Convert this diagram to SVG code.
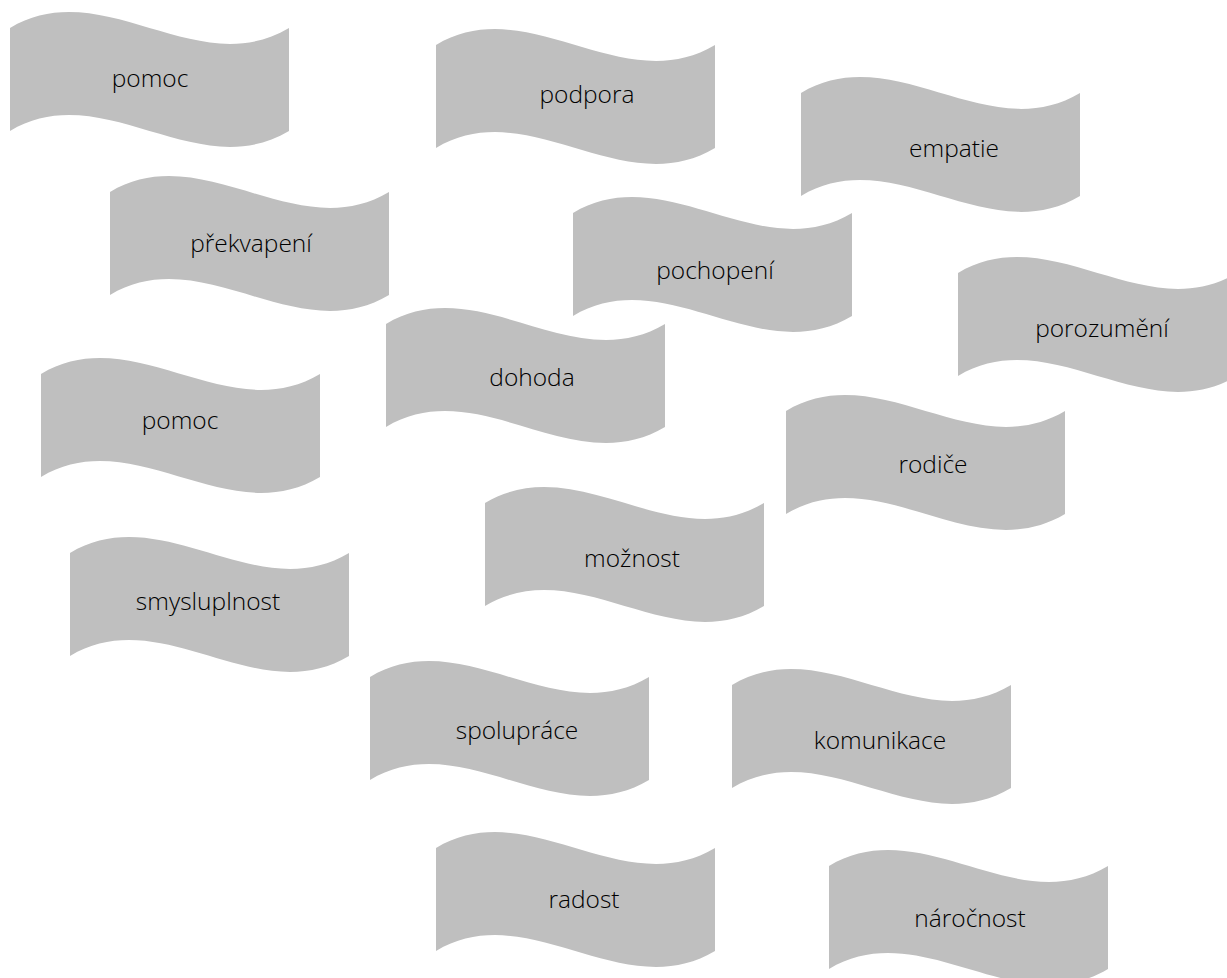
<svg xmlns="http://www.w3.org/2000/svg" xmlns:xlink="http://www.w3.org/1999/xlink" width="1227" height="978" viewBox="0 0 1227 978">
  <style>
    .wave { fill: #bfbfbf; }
    .lbl { font-family: "Open Sans", "Noto Sans", "Liberation Sans", sans-serif; font-weight: 300; font-size: 24.5px; fill: #000000; text-anchor: middle; }
  </style>
  <defs>
    <path id="wave" d="M0,0 C93,-55 186,55 279,0 L279,103 C186,158 93,48 0,103 Z"/>
  </defs>
  <rect width="1227" height="978" fill="#ffffff"/>
  <g id="n1"><use href="#wave" class="wave" x="10" y="28"/><text class="lbl" x="150" y="87">pomoc</text></g>
  <g id="n2"><use href="#wave" class="wave" x="436" y="45"/><text class="lbl" x="587" y="103">podpora</text></g>
  <g id="n3"><use href="#wave" class="wave" x="801" y="93"/><text class="lbl" x="954" y="157">empatie</text></g>
  <g id="n4"><use href="#wave" class="wave" x="110" y="192"/><text class="lbl" x="251" y="252">překvapení</text></g>
  <g id="n5"><use href="#wave" class="wave" x="573" y="213"/><text class="lbl" x="715" y="279">pochopení</text></g>
  <g id="n6"><use href="#wave" class="wave" x="958" y="273"/><text class="lbl" x="1102" y="337">porozumění</text></g>
  <g id="n7"><use href="#wave" class="wave" x="386" y="324"/><text class="lbl" x="532" y="386">dohoda</text></g>
  <g id="n8"><use href="#wave" class="wave" x="41" y="374"/><text class="lbl" x="180" y="429">pomoc</text></g>
  <g id="n9"><use href="#wave" class="wave" x="786" y="411"/><text class="lbl" x="933" y="473">rodiče</text></g>
  <g id="n10"><use href="#wave" class="wave" x="485" y="503"/><text class="lbl" x="632" y="567">možnost</text></g>
  <g id="n11"><use href="#wave" class="wave" x="70" y="553"/><text class="lbl" x="208" y="610">smysluplnost</text></g>
  <g id="n12"><use href="#wave" class="wave" x="370" y="677"/><text class="lbl" x="517" y="739">spolupráce</text></g>
  <g id="n13"><use href="#wave" class="wave" x="732" y="685"/><text class="lbl" x="880" y="749">komunikace</text></g>
  <g id="n14"><use href="#wave" class="wave" x="436" y="848"/><text class="lbl" x="584" y="908">radost</text></g>
  <g id="n15"><use href="#wave" class="wave" x="829" y="866"/><text class="lbl" x="970" y="927">náročnost</text></g>
  <g id="connectors"/>
</svg>
